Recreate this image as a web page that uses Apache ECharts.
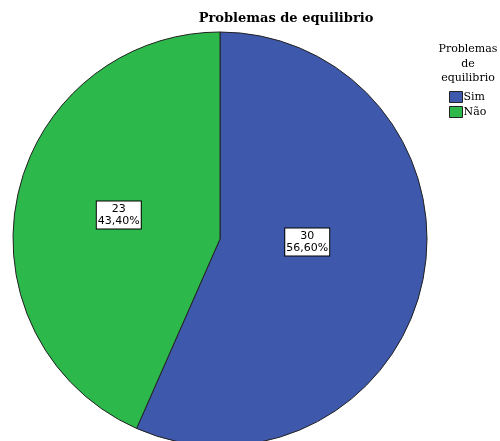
<!DOCTYPE html>
<html>
<head>
<meta charset="utf-8">
<script src="https://cdn.jsdelivr.net/npm/echarts@6/dist/echarts.min.js"></script>
<style>
html,body{margin:0;padding:0;background:#fff;}
#chart{width:500px;height:441px;}
</style>
</head>
<body>
<div id="chart"></div>
<script>
// Frequencies of "Problemas de equilibrio"
const categories = ['Sim', 'Não'];
const counts = [30, 23];
const colors = ['#3e58ab', '#2db84c'];

const total = counts.reduce((a, b) => a + b, 0);
const pct = v => (v / total * 100).toFixed(2).replace('.', ',') + '%';

// per-slice label nudges (px)
const labelOffsets = [[-17, -19], [3, -2]];

const chart = echarts.init(document.getElementById('chart'), null, { renderer: 'canvas' });

chart.setOption({
  animation: false,
  backgroundColor: '#ffffff',
  title: [
    {
      text: 'Problemas de equilibrio',
      left: 281,
      top: 7,
      textAlign: 'center',
      textStyle: { fontFamily: 'DejaVu Serif', fontWeight: 'bold', fontSize: 13, color: '#000' }
    },
    {
      text: 'Problemas\nde\nequilibrio',
      left: 463,
      top: 37,
      textAlign: 'center',
      textStyle: { fontFamily: 'DejaVu Serif', fontWeight: 'normal', fontSize: 11, lineHeight: 14.5, color: '#000' }
    }
  ],
  legend: {
    orient: 'vertical',
    left: 449,
    top: 91,
    padding: 0,
    itemWidth: 13,
    itemHeight: 11,
    itemGap: 3,
    icon: 'rect',
    selectedMode: false,
    textStyle: { fontFamily: 'DejaVu Serif', fontSize: 11, color: '#000', padding: [0, 0, 0, -4] },
    itemStyle: { borderColor: '#222', borderWidth: 1 },
    data: categories
  },
  series: [{
    type: 'pie',
    center: [220, 239],
    radius: [0, 207],
    startAngle: 90,
    clockwise: true,
    avoidLabelOverlap: false,
    labelLine: { show: false },
    itemStyle: { borderColor: '#222', borderWidth: 1 },
    emphasis: { disabled: true },
    data: categories.map((name, i) => ({
      name,
      value: counts[i],
      itemStyle: { color: colors[i] },
      label: { offset: labelOffsets[i] }
    })),
    label: {
      show: true,
      position: 'inside',
      formatter: p => p.value + '\n' + pct(p.value),
      fontFamily: 'DejaVu Sans',
      fontSize: 11,
      lineHeight: 12,
      color: '#000',
      backgroundColor: '#fff',
      borderColor: '#000',
      borderWidth: 1,
      padding: [2, 1, 1, 1],
      align: 'center'
    }
  }]
});
</script>
</body>
</html>
